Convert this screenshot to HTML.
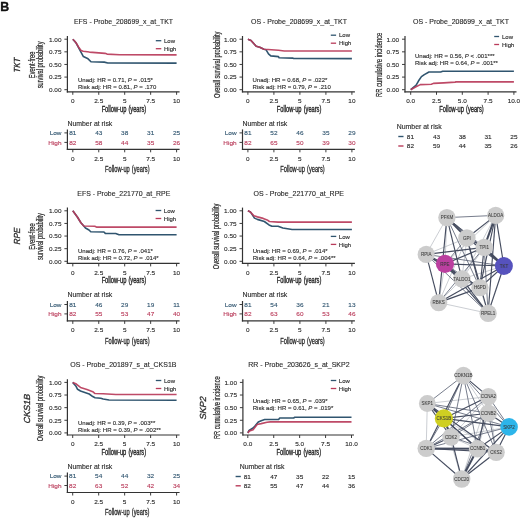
<!DOCTYPE html>
<html><head><meta charset="utf-8"><title>Figure B</title>
<style>html,body{margin:0;padding:0;background:#fff;}svg{display:block;filter:blur(0.35px);}text{font-family:'Liberation Sans', sans-serif;}</style>
</head><body>
<svg width="520" height="518" viewBox="0 0 520 518" font-family="'Liberation Sans', sans-serif">
<line x1="67.40" y1="36.00" x2="67.40" y2="92.40" stroke="#333333" stroke-width="1.2" />
<line x1="66.80" y1="91.80" x2="179.60" y2="91.80" stroke="#333333" stroke-width="1.2" />
<line x1="64.40" y1="89.70" x2="67.40" y2="89.70" stroke="#333333" stroke-width="0.95" />
<text transform="translate(61.50,92.00) scale(1.09,1)" x="0" y="0" font-size="5.92" fill="#2a2a2a" text-anchor="end" stroke="#2a2a2a" stroke-width="0.12">0.00</text>
<line x1="64.40" y1="77.08" x2="67.40" y2="77.08" stroke="#333333" stroke-width="0.95" />
<text transform="translate(61.50,79.38) scale(1.09,1)" x="0" y="0" font-size="5.92" fill="#2a2a2a" text-anchor="end" stroke="#2a2a2a" stroke-width="0.12">0.25</text>
<line x1="64.40" y1="64.45" x2="67.40" y2="64.45" stroke="#333333" stroke-width="0.95" />
<text transform="translate(61.50,66.75) scale(1.09,1)" x="0" y="0" font-size="5.92" fill="#2a2a2a" text-anchor="end" stroke="#2a2a2a" stroke-width="0.12">0.50</text>
<line x1="64.40" y1="51.83" x2="67.40" y2="51.83" stroke="#333333" stroke-width="0.95" />
<text transform="translate(61.50,54.12) scale(1.09,1)" x="0" y="0" font-size="5.92" fill="#2a2a2a" text-anchor="end" stroke="#2a2a2a" stroke-width="0.12">0.75</text>
<line x1="64.40" y1="39.20" x2="67.40" y2="39.20" stroke="#333333" stroke-width="0.95" />
<text transform="translate(61.50,41.50) scale(1.09,1)" x="0" y="0" font-size="5.92" fill="#2a2a2a" text-anchor="end" stroke="#2a2a2a" stroke-width="0.12">1.00</text>
<line x1="72.80" y1="91.80" x2="72.80" y2="94.80" stroke="#333333" stroke-width="0.95" />
<text transform="translate(72.80,103.20) scale(1.09,1)" x="0" y="0" font-size="5.92" fill="#2a2a2a" text-anchor="middle" stroke="#2a2a2a" stroke-width="0.12">0</text>
<line x1="98.75" y1="91.80" x2="98.75" y2="94.80" stroke="#333333" stroke-width="0.95" />
<text transform="translate(98.75,103.20) scale(1.09,1)" x="0" y="0" font-size="5.92" fill="#2a2a2a" text-anchor="middle" stroke="#2a2a2a" stroke-width="0.12">2.5</text>
<line x1="124.70" y1="91.80" x2="124.70" y2="94.80" stroke="#333333" stroke-width="0.95" />
<text transform="translate(124.70,103.20) scale(1.09,1)" x="0" y="0" font-size="5.92" fill="#2a2a2a" text-anchor="middle" stroke="#2a2a2a" stroke-width="0.12">5</text>
<line x1="150.65" y1="91.80" x2="150.65" y2="94.80" stroke="#333333" stroke-width="0.95" />
<text transform="translate(150.65,103.20) scale(1.09,1)" x="0" y="0" font-size="5.92" fill="#2a2a2a" text-anchor="middle" stroke="#2a2a2a" stroke-width="0.12">7.5</text>
<line x1="176.60" y1="91.80" x2="176.60" y2="94.80" stroke="#333333" stroke-width="0.95" />
<text transform="translate(176.60,103.20) scale(1.09,1)" x="0" y="0" font-size="5.92" fill="#2a2a2a" text-anchor="middle" stroke="#2a2a2a" stroke-width="0.12">10</text>
<text x="123.90" y="111.80" font-size="8.4" fill="#2a2a2a" text-anchor="middle" textLength="44.5" lengthAdjust="spacingAndGlyphs" stroke="#2a2a2a" stroke-width="0.38" word-spacing="0.8">Follow-up (years)</text>
<text x="74.00" y="24.20" font-size="6.56" fill="#2a2a2a" textLength="99" lengthAdjust="spacingAndGlyphs" stroke="#2a2a2a" stroke-width="0.12">EFS - Probe_208699_x_at_TKT</text>
<text transform="translate(34.60,64.90) rotate(-90)" x="0" y="0" font-size="8.8" fill="#2a2a2a" text-anchor="middle" textLength="26.5" lengthAdjust="spacingAndGlyphs" stroke="#2a2a2a" stroke-width="0.22">Event-free</text>
<text transform="translate(43.00,64.90) rotate(-90)" x="0" y="0" font-size="8.8" fill="#2a2a2a" text-anchor="middle" textLength="46.8" lengthAdjust="spacingAndGlyphs" stroke="#2a2a2a" stroke-width="0.22">survival probability</text>
<text transform="translate(20.10,65.60) rotate(-90) skewX(-13)" x="0" y="0" font-size="8.8" fill="#2a2a2a" text-anchor="middle" textLength="14.6" lengthAdjust="spacingAndGlyphs" stroke="#2a2a2a" stroke-width="0.3">TKT</text>
<polyline points="72.80,39.20 75.91,42.73 79.34,49.05 83.39,56.52 88.06,58.84 90.97,61.72 104.25,62.13 107.78,62.94 176.60,63.09" fill="none" stroke="#30556f" stroke-width="1.6" stroke-linejoin="round"/>
<polyline points="72.80,39.20 74.88,41.22 76.95,44.25 79.03,47.79 81.10,50.56 83.18,51.32 89.41,52.08 98.75,52.84 104.98,53.34 107.05,54.10 119.51,54.75 176.60,54.86" fill="none" stroke="#b93b5a" stroke-width="1.6" stroke-linejoin="round" stroke-opacity="0.92"/>
<line x1="155.80" y1="40.70" x2="161.30" y2="40.70" stroke="#30556f" stroke-width="1.3" />
<text transform="translate(164.00,42.90) scale(1.09,1)" x="0" y="0" font-size="5.5" fill="#2a2a2a" stroke="#2a2a2a" stroke-width="0.12">Low</text>
<line x1="155.80" y1="48.70" x2="161.30" y2="48.70" stroke="#b93b5a" stroke-width="1.3" />
<text transform="translate(164.00,50.90) scale(1.09,1)" x="0" y="0" font-size="5.5" fill="#2a2a2a" stroke="#2a2a2a" stroke-width="0.12">High</text>
<text transform="translate(78.00,82.00) scale(1.09,1)" x="0" y="0" font-size="5.55" fill="#2a2a2a" stroke="#2a2a2a" stroke-width="0.12">Unadj: HR = 0.71, <tspan font-style="italic">P</tspan> = .015*</text>
<text transform="translate(78.00,88.90) scale(1.09,1)" x="0" y="0" font-size="5.55" fill="#2a2a2a" stroke="#2a2a2a" stroke-width="0.12">Risk adj: HR = 0.81, <tspan font-style="italic">P</tspan> = .170</text>
<text transform="translate(67.50,126.20) scale(1.09,1)" x="0" y="0" font-size="6.33" fill="#2a2a2a" stroke="#2a2a2a" stroke-width="0.12">Number at risk</text>
<line x1="67.40" y1="129.40" x2="67.40" y2="149.90" stroke="#333333" stroke-width="1.2" />
<line x1="66.80" y1="149.30" x2="179.60" y2="149.30" stroke="#333333" stroke-width="1.2" />
<line x1="64.40" y1="132.90" x2="67.40" y2="132.90" stroke="#333333" stroke-width="0.95" />
<text transform="translate(61.50,135.20) scale(1.09,1)" x="0" y="0" font-size="5.92" fill="#30556f" text-anchor="end" stroke="#30556f" stroke-width="0.12">Low</text>
<text transform="translate(72.80,135.20) scale(1.09,1)" x="0" y="0" font-size="5.92" fill="#30556f" text-anchor="middle" stroke="#30556f" stroke-width="0.12">81</text>
<text transform="translate(98.75,135.20) scale(1.09,1)" x="0" y="0" font-size="5.92" fill="#30556f" text-anchor="middle" stroke="#30556f" stroke-width="0.12">43</text>
<text transform="translate(124.70,135.20) scale(1.09,1)" x="0" y="0" font-size="5.92" fill="#30556f" text-anchor="middle" stroke="#30556f" stroke-width="0.12">38</text>
<text transform="translate(150.65,135.20) scale(1.09,1)" x="0" y="0" font-size="5.92" fill="#30556f" text-anchor="middle" stroke="#30556f" stroke-width="0.12">31</text>
<text transform="translate(176.60,135.20) scale(1.09,1)" x="0" y="0" font-size="5.92" fill="#30556f" text-anchor="middle" stroke="#30556f" stroke-width="0.12">25</text>
<line x1="64.40" y1="142.40" x2="67.40" y2="142.40" stroke="#333333" stroke-width="0.95" />
<text transform="translate(61.50,144.70) scale(1.09,1)" x="0" y="0" font-size="5.92" fill="#b93b5a" text-anchor="end" stroke="#b93b5a" stroke-width="0.12">High</text>
<text transform="translate(72.80,144.70) scale(1.09,1)" x="0" y="0" font-size="5.92" fill="#b93b5a" text-anchor="middle" stroke="#b93b5a" stroke-width="0.12">82</text>
<text transform="translate(98.75,144.70) scale(1.09,1)" x="0" y="0" font-size="5.92" fill="#b93b5a" text-anchor="middle" stroke="#b93b5a" stroke-width="0.12">58</text>
<text transform="translate(124.70,144.70) scale(1.09,1)" x="0" y="0" font-size="5.92" fill="#b93b5a" text-anchor="middle" stroke="#b93b5a" stroke-width="0.12">44</text>
<text transform="translate(150.65,144.70) scale(1.09,1)" x="0" y="0" font-size="5.92" fill="#b93b5a" text-anchor="middle" stroke="#b93b5a" stroke-width="0.12">35</text>
<text transform="translate(176.60,144.70) scale(1.09,1)" x="0" y="0" font-size="5.92" fill="#b93b5a" text-anchor="middle" stroke="#b93b5a" stroke-width="0.12">26</text>
<line x1="72.80" y1="149.30" x2="72.80" y2="152.30" stroke="#333333" stroke-width="0.95" />
<text transform="translate(72.80,160.70) scale(1.09,1)" x="0" y="0" font-size="5.92" fill="#2a2a2a" text-anchor="middle" stroke="#2a2a2a" stroke-width="0.12">0</text>
<line x1="98.75" y1="149.30" x2="98.75" y2="152.30" stroke="#333333" stroke-width="0.95" />
<text transform="translate(98.75,160.70) scale(1.09,1)" x="0" y="0" font-size="5.92" fill="#2a2a2a" text-anchor="middle" stroke="#2a2a2a" stroke-width="0.12">2.5</text>
<line x1="124.70" y1="149.30" x2="124.70" y2="152.30" stroke="#333333" stroke-width="0.95" />
<text transform="translate(124.70,160.70) scale(1.09,1)" x="0" y="0" font-size="5.92" fill="#2a2a2a" text-anchor="middle" stroke="#2a2a2a" stroke-width="0.12">5</text>
<line x1="150.65" y1="149.30" x2="150.65" y2="152.30" stroke="#333333" stroke-width="0.95" />
<text transform="translate(150.65,160.70) scale(1.09,1)" x="0" y="0" font-size="5.92" fill="#2a2a2a" text-anchor="middle" stroke="#2a2a2a" stroke-width="0.12">7.5</text>
<line x1="176.60" y1="149.30" x2="176.60" y2="152.30" stroke="#333333" stroke-width="0.95" />
<text transform="translate(176.60,160.70) scale(1.09,1)" x="0" y="0" font-size="5.92" fill="#2a2a2a" text-anchor="middle" stroke="#2a2a2a" stroke-width="0.12">10</text>
<text x="127.30" y="172.10" font-size="8.4" fill="#2a2a2a" text-anchor="middle" textLength="44.5" lengthAdjust="spacingAndGlyphs" stroke="#2a2a2a" stroke-width="0.3" word-spacing="0.8">Follow-up (years)</text>
<line x1="242.50" y1="36.00" x2="242.50" y2="92.40" stroke="#333333" stroke-width="1.2" />
<line x1="241.90" y1="91.80" x2="354.90" y2="91.80" stroke="#333333" stroke-width="1.2" />
<line x1="239.50" y1="89.70" x2="242.50" y2="89.70" stroke="#333333" stroke-width="0.95" />
<text transform="translate(236.60,92.00) scale(1.09,1)" x="0" y="0" font-size="5.92" fill="#2a2a2a" text-anchor="end" stroke="#2a2a2a" stroke-width="0.12">0.00</text>
<line x1="239.50" y1="77.08" x2="242.50" y2="77.08" stroke="#333333" stroke-width="0.95" />
<text transform="translate(236.60,79.38) scale(1.09,1)" x="0" y="0" font-size="5.92" fill="#2a2a2a" text-anchor="end" stroke="#2a2a2a" stroke-width="0.12">0.25</text>
<line x1="239.50" y1="64.45" x2="242.50" y2="64.45" stroke="#333333" stroke-width="0.95" />
<text transform="translate(236.60,66.75) scale(1.09,1)" x="0" y="0" font-size="5.92" fill="#2a2a2a" text-anchor="end" stroke="#2a2a2a" stroke-width="0.12">0.50</text>
<line x1="239.50" y1="51.83" x2="242.50" y2="51.83" stroke="#333333" stroke-width="0.95" />
<text transform="translate(236.60,54.12) scale(1.09,1)" x="0" y="0" font-size="5.92" fill="#2a2a2a" text-anchor="end" stroke="#2a2a2a" stroke-width="0.12">0.75</text>
<line x1="239.50" y1="39.20" x2="242.50" y2="39.20" stroke="#333333" stroke-width="0.95" />
<text transform="translate(236.60,41.50) scale(1.09,1)" x="0" y="0" font-size="5.92" fill="#2a2a2a" text-anchor="end" stroke="#2a2a2a" stroke-width="0.12">1.00</text>
<line x1="247.90" y1="91.80" x2="247.90" y2="94.80" stroke="#333333" stroke-width="0.95" />
<text transform="translate(247.90,103.20) scale(1.09,1)" x="0" y="0" font-size="5.92" fill="#2a2a2a" text-anchor="middle" stroke="#2a2a2a" stroke-width="0.12">0</text>
<line x1="273.90" y1="91.80" x2="273.90" y2="94.80" stroke="#333333" stroke-width="0.95" />
<text transform="translate(273.90,103.20) scale(1.09,1)" x="0" y="0" font-size="5.92" fill="#2a2a2a" text-anchor="middle" stroke="#2a2a2a" stroke-width="0.12">2.5</text>
<line x1="299.90" y1="91.80" x2="299.90" y2="94.80" stroke="#333333" stroke-width="0.95" />
<text transform="translate(299.90,103.20) scale(1.09,1)" x="0" y="0" font-size="5.92" fill="#2a2a2a" text-anchor="middle" stroke="#2a2a2a" stroke-width="0.12">5</text>
<line x1="325.90" y1="91.80" x2="325.90" y2="94.80" stroke="#333333" stroke-width="0.95" />
<text transform="translate(325.90,103.20) scale(1.09,1)" x="0" y="0" font-size="5.92" fill="#2a2a2a" text-anchor="middle" stroke="#2a2a2a" stroke-width="0.12">7.5</text>
<line x1="351.90" y1="91.80" x2="351.90" y2="94.80" stroke="#333333" stroke-width="0.95" />
<text transform="translate(351.90,103.20) scale(1.09,1)" x="0" y="0" font-size="5.92" fill="#2a2a2a" text-anchor="middle" stroke="#2a2a2a" stroke-width="0.12">10</text>
<text x="299.10" y="111.80" font-size="8.4" fill="#2a2a2a" text-anchor="middle" textLength="44.5" lengthAdjust="spacingAndGlyphs" stroke="#2a2a2a" stroke-width="0.38" word-spacing="0.8">Follow-up (years)</text>
<text x="251.00" y="24.20" font-size="6.56" fill="#2a2a2a" textLength="96" lengthAdjust="spacingAndGlyphs" stroke="#2a2a2a" stroke-width="0.12">OS - Probe_208699_x_at_TKT</text>
<text transform="translate(219.60,64.80) rotate(-90)" x="0" y="0" font-size="8.8" fill="#2a2a2a" text-anchor="middle" textLength="66.5" lengthAdjust="spacingAndGlyphs" stroke="#2a2a2a" stroke-width="0.22">Overall survival probability</text>
<polyline points="247.90,39.20 251.02,40.41 253.93,43.75 256.22,46.27 259.76,47.28 263.92,49.30 266.10,49.80 268.49,53.85 270.78,55.87 278.48,56.62 279.10,57.78 292.62,58.09 293.66,58.54 351.90,58.64" fill="none" stroke="#30556f" stroke-width="1.6" stroke-linejoin="round"/>
<polyline points="247.90,39.20 251.02,40.41 253.93,43.75 256.22,46.27 259.76,47.28 263.92,49.30 267.97,49.55 278.48,50.31 284.30,51.07 351.90,51.07" fill="none" stroke="#b93b5a" stroke-width="1.6" stroke-linejoin="round" stroke-opacity="0.92"/>
<line x1="330.80" y1="35.20" x2="336.10" y2="35.20" stroke="#30556f" stroke-width="1.3" />
<text transform="translate(339.00,37.40) scale(1.09,1)" x="0" y="0" font-size="5.5" fill="#2a2a2a" stroke="#2a2a2a" stroke-width="0.12">Low</text>
<line x1="330.80" y1="43.20" x2="336.10" y2="43.20" stroke="#b93b5a" stroke-width="1.3" />
<text transform="translate(339.00,45.40) scale(1.09,1)" x="0" y="0" font-size="5.5" fill="#2a2a2a" stroke="#2a2a2a" stroke-width="0.12">High</text>
<text transform="translate(252.50,82.00) scale(1.09,1)" x="0" y="0" font-size="5.55" fill="#2a2a2a" stroke="#2a2a2a" stroke-width="0.12">Unadj: HR = 0.68, <tspan font-style="italic">P</tspan> = .022*</text>
<text transform="translate(252.50,88.90) scale(1.09,1)" x="0" y="0" font-size="5.55" fill="#2a2a2a" stroke="#2a2a2a" stroke-width="0.12">Risk adj: HR = 0.79, <tspan font-style="italic">P</tspan> = .210</text>
<text transform="translate(242.50,126.20) scale(1.09,1)" x="0" y="0" font-size="6.33" fill="#2a2a2a" stroke="#2a2a2a" stroke-width="0.12">Number at risk</text>
<line x1="242.50" y1="129.40" x2="242.50" y2="149.90" stroke="#333333" stroke-width="1.2" />
<line x1="241.90" y1="149.30" x2="354.90" y2="149.30" stroke="#333333" stroke-width="1.2" />
<line x1="239.50" y1="132.90" x2="242.50" y2="132.90" stroke="#333333" stroke-width="0.95" />
<text transform="translate(236.60,135.20) scale(1.09,1)" x="0" y="0" font-size="5.92" fill="#30556f" text-anchor="end" stroke="#30556f" stroke-width="0.12">Low</text>
<text transform="translate(247.90,135.20) scale(1.09,1)" x="0" y="0" font-size="5.92" fill="#30556f" text-anchor="middle" stroke="#30556f" stroke-width="0.12">81</text>
<text transform="translate(273.90,135.20) scale(1.09,1)" x="0" y="0" font-size="5.92" fill="#30556f" text-anchor="middle" stroke="#30556f" stroke-width="0.12">52</text>
<text transform="translate(299.90,135.20) scale(1.09,1)" x="0" y="0" font-size="5.92" fill="#30556f" text-anchor="middle" stroke="#30556f" stroke-width="0.12">46</text>
<text transform="translate(325.90,135.20) scale(1.09,1)" x="0" y="0" font-size="5.92" fill="#30556f" text-anchor="middle" stroke="#30556f" stroke-width="0.12">35</text>
<text transform="translate(351.90,135.20) scale(1.09,1)" x="0" y="0" font-size="5.92" fill="#30556f" text-anchor="middle" stroke="#30556f" stroke-width="0.12">29</text>
<line x1="239.50" y1="142.40" x2="242.50" y2="142.40" stroke="#333333" stroke-width="0.95" />
<text transform="translate(236.60,144.70) scale(1.09,1)" x="0" y="0" font-size="5.92" fill="#b93b5a" text-anchor="end" stroke="#b93b5a" stroke-width="0.12">High</text>
<text transform="translate(247.90,144.70) scale(1.09,1)" x="0" y="0" font-size="5.92" fill="#b93b5a" text-anchor="middle" stroke="#b93b5a" stroke-width="0.12">82</text>
<text transform="translate(273.90,144.70) scale(1.09,1)" x="0" y="0" font-size="5.92" fill="#b93b5a" text-anchor="middle" stroke="#b93b5a" stroke-width="0.12">65</text>
<text transform="translate(299.90,144.70) scale(1.09,1)" x="0" y="0" font-size="5.92" fill="#b93b5a" text-anchor="middle" stroke="#b93b5a" stroke-width="0.12">50</text>
<text transform="translate(325.90,144.70) scale(1.09,1)" x="0" y="0" font-size="5.92" fill="#b93b5a" text-anchor="middle" stroke="#b93b5a" stroke-width="0.12">39</text>
<text transform="translate(351.90,144.70) scale(1.09,1)" x="0" y="0" font-size="5.92" fill="#b93b5a" text-anchor="middle" stroke="#b93b5a" stroke-width="0.12">30</text>
<line x1="247.90" y1="149.30" x2="247.90" y2="152.30" stroke="#333333" stroke-width="0.95" />
<text transform="translate(247.90,160.70) scale(1.09,1)" x="0" y="0" font-size="5.92" fill="#2a2a2a" text-anchor="middle" stroke="#2a2a2a" stroke-width="0.12">0</text>
<line x1="273.90" y1="149.30" x2="273.90" y2="152.30" stroke="#333333" stroke-width="0.95" />
<text transform="translate(273.90,160.70) scale(1.09,1)" x="0" y="0" font-size="5.92" fill="#2a2a2a" text-anchor="middle" stroke="#2a2a2a" stroke-width="0.12">2.5</text>
<line x1="299.90" y1="149.30" x2="299.90" y2="152.30" stroke="#333333" stroke-width="0.95" />
<text transform="translate(299.90,160.70) scale(1.09,1)" x="0" y="0" font-size="5.92" fill="#2a2a2a" text-anchor="middle" stroke="#2a2a2a" stroke-width="0.12">5</text>
<line x1="325.90" y1="149.30" x2="325.90" y2="152.30" stroke="#333333" stroke-width="0.95" />
<text transform="translate(325.90,160.70) scale(1.09,1)" x="0" y="0" font-size="5.92" fill="#2a2a2a" text-anchor="middle" stroke="#2a2a2a" stroke-width="0.12">7.5</text>
<line x1="351.90" y1="149.30" x2="351.90" y2="152.30" stroke="#333333" stroke-width="0.95" />
<text transform="translate(351.90,160.70) scale(1.09,1)" x="0" y="0" font-size="5.92" fill="#2a2a2a" text-anchor="middle" stroke="#2a2a2a" stroke-width="0.12">10</text>
<text x="302.50" y="172.10" font-size="8.4" fill="#2a2a2a" text-anchor="middle" textLength="44.5" lengthAdjust="spacingAndGlyphs" stroke="#2a2a2a" stroke-width="0.3" word-spacing="0.8">Follow-up (years)</text>
<line x1="405.00" y1="36.00" x2="405.00" y2="92.40" stroke="#333333" stroke-width="1.2" />
<line x1="404.40" y1="91.80" x2="516.50" y2="91.80" stroke="#333333" stroke-width="1.2" />
<line x1="402.00" y1="89.70" x2="405.00" y2="89.70" stroke="#333333" stroke-width="0.95" />
<text transform="translate(399.10,92.00) scale(1.09,1)" x="0" y="0" font-size="5.92" fill="#2a2a2a" text-anchor="end" stroke="#2a2a2a" stroke-width="0.12">0.00</text>
<line x1="402.00" y1="77.08" x2="405.00" y2="77.08" stroke="#333333" stroke-width="0.95" />
<text transform="translate(399.10,79.38) scale(1.09,1)" x="0" y="0" font-size="5.92" fill="#2a2a2a" text-anchor="end" stroke="#2a2a2a" stroke-width="0.12">0.25</text>
<line x1="402.00" y1="64.45" x2="405.00" y2="64.45" stroke="#333333" stroke-width="0.95" />
<text transform="translate(399.10,66.75) scale(1.09,1)" x="0" y="0" font-size="5.92" fill="#2a2a2a" text-anchor="end" stroke="#2a2a2a" stroke-width="0.12">0.50</text>
<line x1="402.00" y1="51.83" x2="405.00" y2="51.83" stroke="#333333" stroke-width="0.95" />
<text transform="translate(399.10,54.12) scale(1.09,1)" x="0" y="0" font-size="5.92" fill="#2a2a2a" text-anchor="end" stroke="#2a2a2a" stroke-width="0.12">0.75</text>
<line x1="402.00" y1="39.20" x2="405.00" y2="39.20" stroke="#333333" stroke-width="0.95" />
<text transform="translate(399.10,41.50) scale(1.09,1)" x="0" y="0" font-size="5.92" fill="#2a2a2a" text-anchor="end" stroke="#2a2a2a" stroke-width="0.12">1.00</text>
<line x1="410.70" y1="91.80" x2="410.70" y2="94.80" stroke="#333333" stroke-width="0.95" />
<text transform="translate(410.70,103.20) scale(1.09,1)" x="0" y="0" font-size="5.92" fill="#2a2a2a" text-anchor="middle" stroke="#2a2a2a" stroke-width="0.12">0.0</text>
<line x1="436.50" y1="91.80" x2="436.50" y2="94.80" stroke="#333333" stroke-width="0.95" />
<text transform="translate(436.50,103.20) scale(1.09,1)" x="0" y="0" font-size="5.92" fill="#2a2a2a" text-anchor="middle" stroke="#2a2a2a" stroke-width="0.12">2.5</text>
<line x1="462.30" y1="91.80" x2="462.30" y2="94.80" stroke="#333333" stroke-width="0.95" />
<text transform="translate(462.30,103.20) scale(1.09,1)" x="0" y="0" font-size="5.92" fill="#2a2a2a" text-anchor="middle" stroke="#2a2a2a" stroke-width="0.12">5.0</text>
<line x1="488.10" y1="91.80" x2="488.10" y2="94.80" stroke="#333333" stroke-width="0.95" />
<text transform="translate(488.10,103.20) scale(1.09,1)" x="0" y="0" font-size="5.92" fill="#2a2a2a" text-anchor="middle" stroke="#2a2a2a" stroke-width="0.12">7.5</text>
<line x1="513.90" y1="91.80" x2="513.90" y2="94.80" stroke="#333333" stroke-width="0.95" />
<text transform="translate(513.90,103.20) scale(1.09,1)" x="0" y="0" font-size="5.92" fill="#2a2a2a" text-anchor="middle" stroke="#2a2a2a" stroke-width="0.12">10.0</text>
<text x="461.50" y="111.80" font-size="8.4" fill="#2a2a2a" text-anchor="middle" textLength="44.5" lengthAdjust="spacingAndGlyphs" stroke="#2a2a2a" stroke-width="0.38" word-spacing="0.8">Follow-up (years)</text>
<text x="413.00" y="24.20" font-size="6.56" fill="#2a2a2a" textLength="96" lengthAdjust="spacingAndGlyphs" stroke="#2a2a2a" stroke-width="0.12">OS - Probe_208699_x_at_TKT</text>
<text transform="translate(381.60,64.80) rotate(-90)" x="0" y="0" font-size="8.8" fill="#2a2a2a" text-anchor="middle" textLength="64.2" lengthAdjust="spacingAndGlyphs" stroke="#2a2a2a" stroke-width="0.22">RR cumulative incidence</text>
<polyline points="410.70,89.70 416.17,85.21 418.44,81.06 421.43,76.67 424.32,74.65 428.97,71.97 440.63,71.97 442.69,71.27 513.90,71.27" fill="none" stroke="#30556f" stroke-width="1.6" stroke-linejoin="round"/>
<polyline points="410.70,89.70 415.55,86.97 420.30,84.65 431.34,84.30 433.40,83.39 443.72,82.88 455.08,82.12 456.11,81.87 513.90,81.87" fill="none" stroke="#b93b5a" stroke-width="1.6" stroke-linejoin="round" stroke-opacity="0.92"/>
<line x1="494.20" y1="36.50" x2="499.10" y2="36.50" stroke="#30556f" stroke-width="1.3" />
<text transform="translate(502.00,38.70) scale(1.09,1)" x="0" y="0" font-size="5.5" fill="#2a2a2a" stroke="#2a2a2a" stroke-width="0.12">Low</text>
<line x1="494.20" y1="44.50" x2="499.10" y2="44.50" stroke="#b93b5a" stroke-width="1.3" />
<text transform="translate(502.00,46.70) scale(1.09,1)" x="0" y="0" font-size="5.5" fill="#2a2a2a" stroke="#2a2a2a" stroke-width="0.12">High</text>
<text transform="translate(415.00,58.00) scale(1.09,1)" x="0" y="0" font-size="5.55" fill="#2a2a2a" stroke="#2a2a2a" stroke-width="0.12">Unadj: HR = 0.56, <tspan font-style="italic">P</tspan> &lt; .001***</text>
<text transform="translate(415.00,64.90) scale(1.09,1)" x="0" y="0" font-size="5.55" fill="#2a2a2a" stroke="#2a2a2a" stroke-width="0.12">Risk adj: HR = 0.64, <tspan font-style="italic">P</tspan> = .001**</text>
<text transform="translate(396.80,129.00) scale(1.09,1)" x="0" y="0" font-size="6.33" fill="#2a2a2a" stroke="#2a2a2a" stroke-width="0.12">Number at risk</text>
<line x1="398.30" y1="136.50" x2="403.50" y2="136.50" stroke="#30556f" stroke-width="1.4" />
<text transform="translate(410.40,138.80) scale(1.09,1)" x="0" y="0" font-size="5.92" fill="#2a2a2a" text-anchor="middle" stroke="#2a2a2a" stroke-width="0.12">81</text>
<text transform="translate(436.50,138.80) scale(1.09,1)" x="0" y="0" font-size="5.92" fill="#2a2a2a" text-anchor="middle" stroke="#2a2a2a" stroke-width="0.12">43</text>
<text transform="translate(462.30,138.80) scale(1.09,1)" x="0" y="0" font-size="5.92" fill="#2a2a2a" text-anchor="middle" stroke="#2a2a2a" stroke-width="0.12">38</text>
<text transform="translate(488.10,138.80) scale(1.09,1)" x="0" y="0" font-size="5.92" fill="#2a2a2a" text-anchor="middle" stroke="#2a2a2a" stroke-width="0.12">31</text>
<text transform="translate(513.90,138.80) scale(1.09,1)" x="0" y="0" font-size="5.92" fill="#2a2a2a" text-anchor="middle" stroke="#2a2a2a" stroke-width="0.12">25</text>
<line x1="398.30" y1="146.00" x2="403.50" y2="146.00" stroke="#b93b5a" stroke-width="1.4" />
<text transform="translate(410.40,148.30) scale(1.09,1)" x="0" y="0" font-size="5.92" fill="#2a2a2a" text-anchor="middle" stroke="#2a2a2a" stroke-width="0.12">82</text>
<text transform="translate(436.50,148.30) scale(1.09,1)" x="0" y="0" font-size="5.92" fill="#2a2a2a" text-anchor="middle" stroke="#2a2a2a" stroke-width="0.12">59</text>
<text transform="translate(462.30,148.30) scale(1.09,1)" x="0" y="0" font-size="5.92" fill="#2a2a2a" text-anchor="middle" stroke="#2a2a2a" stroke-width="0.12">44</text>
<text transform="translate(488.10,148.30) scale(1.09,1)" x="0" y="0" font-size="5.92" fill="#2a2a2a" text-anchor="middle" stroke="#2a2a2a" stroke-width="0.12">35</text>
<text transform="translate(513.90,148.30) scale(1.09,1)" x="0" y="0" font-size="5.92" fill="#2a2a2a" text-anchor="middle" stroke="#2a2a2a" stroke-width="0.12">26</text>
<line x1="67.40" y1="207.60" x2="67.40" y2="264.00" stroke="#333333" stroke-width="1.2" />
<line x1="66.80" y1="263.40" x2="179.60" y2="263.40" stroke="#333333" stroke-width="1.2" />
<line x1="64.40" y1="261.30" x2="67.40" y2="261.30" stroke="#333333" stroke-width="0.95" />
<text transform="translate(61.50,263.60) scale(1.09,1)" x="0" y="0" font-size="5.92" fill="#2a2a2a" text-anchor="end" stroke="#2a2a2a" stroke-width="0.12">0.00</text>
<line x1="64.40" y1="248.68" x2="67.40" y2="248.68" stroke="#333333" stroke-width="0.95" />
<text transform="translate(61.50,250.98) scale(1.09,1)" x="0" y="0" font-size="5.92" fill="#2a2a2a" text-anchor="end" stroke="#2a2a2a" stroke-width="0.12">0.25</text>
<line x1="64.40" y1="236.05" x2="67.40" y2="236.05" stroke="#333333" stroke-width="0.95" />
<text transform="translate(61.50,238.35) scale(1.09,1)" x="0" y="0" font-size="5.92" fill="#2a2a2a" text-anchor="end" stroke="#2a2a2a" stroke-width="0.12">0.50</text>
<line x1="64.40" y1="223.43" x2="67.40" y2="223.43" stroke="#333333" stroke-width="0.95" />
<text transform="translate(61.50,225.73) scale(1.09,1)" x="0" y="0" font-size="5.92" fill="#2a2a2a" text-anchor="end" stroke="#2a2a2a" stroke-width="0.12">0.75</text>
<line x1="64.40" y1="210.80" x2="67.40" y2="210.80" stroke="#333333" stroke-width="0.95" />
<text transform="translate(61.50,213.10) scale(1.09,1)" x="0" y="0" font-size="5.92" fill="#2a2a2a" text-anchor="end" stroke="#2a2a2a" stroke-width="0.12">1.00</text>
<line x1="72.80" y1="263.40" x2="72.80" y2="266.40" stroke="#333333" stroke-width="0.95" />
<text transform="translate(72.80,274.80) scale(1.09,1)" x="0" y="0" font-size="5.92" fill="#2a2a2a" text-anchor="middle" stroke="#2a2a2a" stroke-width="0.12">0</text>
<line x1="98.75" y1="263.40" x2="98.75" y2="266.40" stroke="#333333" stroke-width="0.95" />
<text transform="translate(98.75,274.80) scale(1.09,1)" x="0" y="0" font-size="5.92" fill="#2a2a2a" text-anchor="middle" stroke="#2a2a2a" stroke-width="0.12">2.5</text>
<line x1="124.70" y1="263.40" x2="124.70" y2="266.40" stroke="#333333" stroke-width="0.95" />
<text transform="translate(124.70,274.80) scale(1.09,1)" x="0" y="0" font-size="5.92" fill="#2a2a2a" text-anchor="middle" stroke="#2a2a2a" stroke-width="0.12">5</text>
<line x1="150.65" y1="263.40" x2="150.65" y2="266.40" stroke="#333333" stroke-width="0.95" />
<text transform="translate(150.65,274.80) scale(1.09,1)" x="0" y="0" font-size="5.92" fill="#2a2a2a" text-anchor="middle" stroke="#2a2a2a" stroke-width="0.12">7.5</text>
<line x1="176.60" y1="263.40" x2="176.60" y2="266.40" stroke="#333333" stroke-width="0.95" />
<text transform="translate(176.60,274.80) scale(1.09,1)" x="0" y="0" font-size="5.92" fill="#2a2a2a" text-anchor="middle" stroke="#2a2a2a" stroke-width="0.12">10</text>
<text x="123.90" y="283.40" font-size="8.4" fill="#2a2a2a" text-anchor="middle" textLength="44.5" lengthAdjust="spacingAndGlyphs" stroke="#2a2a2a" stroke-width="0.38" word-spacing="0.8">Follow-up (years)</text>
<text x="77.30" y="195.80" font-size="6.56" fill="#2a2a2a" textLength="93.00000000000001" lengthAdjust="spacingAndGlyphs" stroke="#2a2a2a" stroke-width="0.12">EFS - Probe_221770_at_RPE</text>
<text transform="translate(34.60,236.50) rotate(-90)" x="0" y="0" font-size="8.8" fill="#2a2a2a" text-anchor="middle" textLength="26.5" lengthAdjust="spacingAndGlyphs" stroke="#2a2a2a" stroke-width="0.22">Event-free</text>
<text transform="translate(43.00,236.50) rotate(-90)" x="0" y="0" font-size="8.8" fill="#2a2a2a" text-anchor="middle" textLength="46.8" lengthAdjust="spacingAndGlyphs" stroke="#2a2a2a" stroke-width="0.22">survival probability</text>
<text transform="translate(20.10,236.60) rotate(-90) skewX(-13)" x="0" y="0" font-size="8.8" fill="#2a2a2a" text-anchor="middle" textLength="16.6" lengthAdjust="spacingAndGlyphs" stroke="#2a2a2a" stroke-width="0.3">RPE</text>
<polyline points="72.80,210.80 77.37,217.01 80.90,222.72 83.80,225.95 85.46,227.97 88.99,229.99 90.76,231.76 103.94,232.01 105.29,233.37 115.67,233.53 119.09,234.79 176.60,234.79" fill="none" stroke="#30556f" stroke-width="1.6" stroke-linejoin="round"/>
<polyline points="72.80,210.80 77.37,217.01 80.90,222.72 83.80,225.95 94.81,226.25 96.47,227.16 176.60,227.16" fill="none" stroke="#b93b5a" stroke-width="1.6" stroke-linejoin="round" stroke-opacity="0.92"/>
<line x1="155.60" y1="210.50" x2="161.25" y2="210.50" stroke="#30556f" stroke-width="1.3" />
<text transform="translate(163.80,212.70) scale(1.09,1)" x="0" y="0" font-size="5.5" fill="#2a2a2a" stroke="#2a2a2a" stroke-width="0.12">Low</text>
<line x1="155.60" y1="218.50" x2="161.25" y2="218.50" stroke="#b93b5a" stroke-width="1.3" />
<text transform="translate(163.80,220.70) scale(1.09,1)" x="0" y="0" font-size="5.5" fill="#2a2a2a" stroke="#2a2a2a" stroke-width="0.12">High</text>
<text transform="translate(78.00,252.90) scale(1.09,1)" x="0" y="0" font-size="5.55" fill="#2a2a2a" stroke="#2a2a2a" stroke-width="0.12">Unadj: HR = 0.76, <tspan font-style="italic">P</tspan> = .041*</text>
<text transform="translate(78.00,259.80) scale(1.09,1)" x="0" y="0" font-size="5.55" fill="#2a2a2a" stroke="#2a2a2a" stroke-width="0.12">Risk adj: HR = 0.72, <tspan font-style="italic">P</tspan> = .014*</text>
<text transform="translate(67.50,297.40) scale(1.09,1)" x="0" y="0" font-size="6.33" fill="#2a2a2a" stroke="#2a2a2a" stroke-width="0.12">Number at risk</text>
<line x1="67.40" y1="301.00" x2="67.40" y2="321.50" stroke="#333333" stroke-width="1.2" />
<line x1="66.80" y1="320.90" x2="179.60" y2="320.90" stroke="#333333" stroke-width="1.2" />
<line x1="64.40" y1="304.50" x2="67.40" y2="304.50" stroke="#333333" stroke-width="0.95" />
<text transform="translate(61.50,306.80) scale(1.09,1)" x="0" y="0" font-size="5.92" fill="#30556f" text-anchor="end" stroke="#30556f" stroke-width="0.12">Low</text>
<text transform="translate(72.80,306.80) scale(1.09,1)" x="0" y="0" font-size="5.92" fill="#30556f" text-anchor="middle" stroke="#30556f" stroke-width="0.12">81</text>
<text transform="translate(98.75,306.80) scale(1.09,1)" x="0" y="0" font-size="5.92" fill="#30556f" text-anchor="middle" stroke="#30556f" stroke-width="0.12">46</text>
<text transform="translate(124.70,306.80) scale(1.09,1)" x="0" y="0" font-size="5.92" fill="#30556f" text-anchor="middle" stroke="#30556f" stroke-width="0.12">29</text>
<text transform="translate(150.65,306.80) scale(1.09,1)" x="0" y="0" font-size="5.92" fill="#30556f" text-anchor="middle" stroke="#30556f" stroke-width="0.12">19</text>
<text transform="translate(176.60,306.80) scale(1.09,1)" x="0" y="0" font-size="5.92" fill="#30556f" text-anchor="middle" stroke="#30556f" stroke-width="0.12">11</text>
<line x1="64.40" y1="313.90" x2="67.40" y2="313.90" stroke="#333333" stroke-width="0.95" />
<text transform="translate(61.50,316.20) scale(1.09,1)" x="0" y="0" font-size="5.92" fill="#b93b5a" text-anchor="end" stroke="#b93b5a" stroke-width="0.12">High</text>
<text transform="translate(72.80,316.20) scale(1.09,1)" x="0" y="0" font-size="5.92" fill="#b93b5a" text-anchor="middle" stroke="#b93b5a" stroke-width="0.12">82</text>
<text transform="translate(98.75,316.20) scale(1.09,1)" x="0" y="0" font-size="5.92" fill="#b93b5a" text-anchor="middle" stroke="#b93b5a" stroke-width="0.12">55</text>
<text transform="translate(124.70,316.20) scale(1.09,1)" x="0" y="0" font-size="5.92" fill="#b93b5a" text-anchor="middle" stroke="#b93b5a" stroke-width="0.12">53</text>
<text transform="translate(150.65,316.20) scale(1.09,1)" x="0" y="0" font-size="5.92" fill="#b93b5a" text-anchor="middle" stroke="#b93b5a" stroke-width="0.12">47</text>
<text transform="translate(176.60,316.20) scale(1.09,1)" x="0" y="0" font-size="5.92" fill="#b93b5a" text-anchor="middle" stroke="#b93b5a" stroke-width="0.12">40</text>
<line x1="72.80" y1="320.90" x2="72.80" y2="323.90" stroke="#333333" stroke-width="0.95" />
<text transform="translate(72.80,332.30) scale(1.09,1)" x="0" y="0" font-size="5.92" fill="#2a2a2a" text-anchor="middle" stroke="#2a2a2a" stroke-width="0.12">0</text>
<line x1="98.75" y1="320.90" x2="98.75" y2="323.90" stroke="#333333" stroke-width="0.95" />
<text transform="translate(98.75,332.30) scale(1.09,1)" x="0" y="0" font-size="5.92" fill="#2a2a2a" text-anchor="middle" stroke="#2a2a2a" stroke-width="0.12">2.5</text>
<line x1="124.70" y1="320.90" x2="124.70" y2="323.90" stroke="#333333" stroke-width="0.95" />
<text transform="translate(124.70,332.30) scale(1.09,1)" x="0" y="0" font-size="5.92" fill="#2a2a2a" text-anchor="middle" stroke="#2a2a2a" stroke-width="0.12">5</text>
<line x1="150.65" y1="320.90" x2="150.65" y2="323.90" stroke="#333333" stroke-width="0.95" />
<text transform="translate(150.65,332.30) scale(1.09,1)" x="0" y="0" font-size="5.92" fill="#2a2a2a" text-anchor="middle" stroke="#2a2a2a" stroke-width="0.12">7.5</text>
<line x1="176.60" y1="320.90" x2="176.60" y2="323.90" stroke="#333333" stroke-width="0.95" />
<text transform="translate(176.60,332.30) scale(1.09,1)" x="0" y="0" font-size="5.92" fill="#2a2a2a" text-anchor="middle" stroke="#2a2a2a" stroke-width="0.12">10</text>
<text x="127.30" y="343.70" font-size="8.4" fill="#2a2a2a" text-anchor="middle" textLength="44.5" lengthAdjust="spacingAndGlyphs" stroke="#2a2a2a" stroke-width="0.3" word-spacing="0.8">Follow-up (years)</text>
<line x1="242.50" y1="207.60" x2="242.50" y2="264.00" stroke="#333333" stroke-width="1.2" />
<line x1="241.90" y1="263.40" x2="354.90" y2="263.40" stroke="#333333" stroke-width="1.2" />
<line x1="239.50" y1="261.30" x2="242.50" y2="261.30" stroke="#333333" stroke-width="0.95" />
<text transform="translate(236.60,263.60) scale(1.09,1)" x="0" y="0" font-size="5.92" fill="#2a2a2a" text-anchor="end" stroke="#2a2a2a" stroke-width="0.12">0.00</text>
<line x1="239.50" y1="248.68" x2="242.50" y2="248.68" stroke="#333333" stroke-width="0.95" />
<text transform="translate(236.60,250.98) scale(1.09,1)" x="0" y="0" font-size="5.92" fill="#2a2a2a" text-anchor="end" stroke="#2a2a2a" stroke-width="0.12">0.25</text>
<line x1="239.50" y1="236.05" x2="242.50" y2="236.05" stroke="#333333" stroke-width="0.95" />
<text transform="translate(236.60,238.35) scale(1.09,1)" x="0" y="0" font-size="5.92" fill="#2a2a2a" text-anchor="end" stroke="#2a2a2a" stroke-width="0.12">0.50</text>
<line x1="239.50" y1="223.43" x2="242.50" y2="223.43" stroke="#333333" stroke-width="0.95" />
<text transform="translate(236.60,225.73) scale(1.09,1)" x="0" y="0" font-size="5.92" fill="#2a2a2a" text-anchor="end" stroke="#2a2a2a" stroke-width="0.12">0.75</text>
<line x1="239.50" y1="210.80" x2="242.50" y2="210.80" stroke="#333333" stroke-width="0.95" />
<text transform="translate(236.60,213.10) scale(1.09,1)" x="0" y="0" font-size="5.92" fill="#2a2a2a" text-anchor="end" stroke="#2a2a2a" stroke-width="0.12">1.00</text>
<line x1="247.90" y1="263.40" x2="247.90" y2="266.40" stroke="#333333" stroke-width="0.95" />
<text transform="translate(247.90,274.80) scale(1.09,1)" x="0" y="0" font-size="5.92" fill="#2a2a2a" text-anchor="middle" stroke="#2a2a2a" stroke-width="0.12">0</text>
<line x1="273.90" y1="263.40" x2="273.90" y2="266.40" stroke="#333333" stroke-width="0.95" />
<text transform="translate(273.90,274.80) scale(1.09,1)" x="0" y="0" font-size="5.92" fill="#2a2a2a" text-anchor="middle" stroke="#2a2a2a" stroke-width="0.12">2.5</text>
<line x1="299.90" y1="263.40" x2="299.90" y2="266.40" stroke="#333333" stroke-width="0.95" />
<text transform="translate(299.90,274.80) scale(1.09,1)" x="0" y="0" font-size="5.92" fill="#2a2a2a" text-anchor="middle" stroke="#2a2a2a" stroke-width="0.12">5</text>
<line x1="325.90" y1="263.40" x2="325.90" y2="266.40" stroke="#333333" stroke-width="0.95" />
<text transform="translate(325.90,274.80) scale(1.09,1)" x="0" y="0" font-size="5.92" fill="#2a2a2a" text-anchor="middle" stroke="#2a2a2a" stroke-width="0.12">7.5</text>
<line x1="351.90" y1="263.40" x2="351.90" y2="266.40" stroke="#333333" stroke-width="0.95" />
<text transform="translate(351.90,274.80) scale(1.09,1)" x="0" y="0" font-size="5.92" fill="#2a2a2a" text-anchor="middle" stroke="#2a2a2a" stroke-width="0.12">10</text>
<text x="299.10" y="283.40" font-size="8.4" fill="#2a2a2a" text-anchor="middle" textLength="44.5" lengthAdjust="spacingAndGlyphs" stroke="#2a2a2a" stroke-width="0.38" word-spacing="0.8">Follow-up (years)</text>
<text x="253.50" y="195.80" font-size="6.56" fill="#2a2a2a" textLength="90.5" lengthAdjust="spacingAndGlyphs" stroke="#2a2a2a" stroke-width="0.12">OS - Probe_221770_at_RPE</text>
<text transform="translate(218.80,236.40) rotate(-90)" x="0" y="0" font-size="8.8" fill="#2a2a2a" text-anchor="middle" textLength="65.5" lengthAdjust="spacingAndGlyphs" stroke="#2a2a2a" stroke-width="0.22">Overall survival probability</text>
<polyline points="247.90,210.80 250.40,211.91 254.45,218.12 257.36,219.39 264.33,221.51 269.01,224.94 271.92,226.25 278.06,226.25 282.84,227.97 292.10,229.49 351.90,229.49" fill="none" stroke="#30556f" stroke-width="1.6" stroke-linejoin="round"/>
<polyline points="247.90,210.80 250.40,211.91 253.93,215.85 257.36,216.86 263.19,218.38 267.14,219.89 269.43,221.51 278.06,222.16 351.90,222.16" fill="none" stroke="#b93b5a" stroke-width="1.6" stroke-linejoin="round" stroke-opacity="0.92"/>
<line x1="330.80" y1="236.40" x2="336.25" y2="236.40" stroke="#30556f" stroke-width="1.3" />
<text transform="translate(338.80,238.60) scale(1.09,1)" x="0" y="0" font-size="5.5" fill="#2a2a2a" stroke="#2a2a2a" stroke-width="0.12">Low</text>
<line x1="330.80" y1="244.40" x2="336.25" y2="244.40" stroke="#b93b5a" stroke-width="1.3" />
<text transform="translate(338.80,246.60) scale(1.09,1)" x="0" y="0" font-size="5.5" fill="#2a2a2a" stroke="#2a2a2a" stroke-width="0.12">High</text>
<text transform="translate(252.70,252.60) scale(1.09,1)" x="0" y="0" font-size="5.55" fill="#2a2a2a" stroke="#2a2a2a" stroke-width="0.12">Unadj: HR = 0.69, <tspan font-style="italic">P</tspan> = .014*</text>
<text transform="translate(252.70,259.50) scale(1.09,1)" x="0" y="0" font-size="5.55" fill="#2a2a2a" stroke="#2a2a2a" stroke-width="0.12">Risk adj: HR = 0.64, <tspan font-style="italic">P</tspan> = .004**</text>
<text transform="translate(242.50,297.40) scale(1.09,1)" x="0" y="0" font-size="6.33" fill="#2a2a2a" stroke="#2a2a2a" stroke-width="0.12">Number at risk</text>
<line x1="242.50" y1="301.00" x2="242.50" y2="321.50" stroke="#333333" stroke-width="1.2" />
<line x1="241.90" y1="320.90" x2="354.90" y2="320.90" stroke="#333333" stroke-width="1.2" />
<line x1="239.50" y1="304.50" x2="242.50" y2="304.50" stroke="#333333" stroke-width="0.95" />
<text transform="translate(236.60,306.80) scale(1.09,1)" x="0" y="0" font-size="5.92" fill="#30556f" text-anchor="end" stroke="#30556f" stroke-width="0.12">Low</text>
<text transform="translate(247.90,306.80) scale(1.09,1)" x="0" y="0" font-size="5.92" fill="#30556f" text-anchor="middle" stroke="#30556f" stroke-width="0.12">81</text>
<text transform="translate(273.90,306.80) scale(1.09,1)" x="0" y="0" font-size="5.92" fill="#30556f" text-anchor="middle" stroke="#30556f" stroke-width="0.12">54</text>
<text transform="translate(299.90,306.80) scale(1.09,1)" x="0" y="0" font-size="5.92" fill="#30556f" text-anchor="middle" stroke="#30556f" stroke-width="0.12">36</text>
<text transform="translate(325.90,306.80) scale(1.09,1)" x="0" y="0" font-size="5.92" fill="#30556f" text-anchor="middle" stroke="#30556f" stroke-width="0.12">21</text>
<text transform="translate(351.90,306.80) scale(1.09,1)" x="0" y="0" font-size="5.92" fill="#30556f" text-anchor="middle" stroke="#30556f" stroke-width="0.12">13</text>
<line x1="239.50" y1="313.90" x2="242.50" y2="313.90" stroke="#333333" stroke-width="0.95" />
<text transform="translate(236.60,316.20) scale(1.09,1)" x="0" y="0" font-size="5.92" fill="#b93b5a" text-anchor="end" stroke="#b93b5a" stroke-width="0.12">High</text>
<text transform="translate(247.90,316.20) scale(1.09,1)" x="0" y="0" font-size="5.92" fill="#b93b5a" text-anchor="middle" stroke="#b93b5a" stroke-width="0.12">82</text>
<text transform="translate(273.90,316.20) scale(1.09,1)" x="0" y="0" font-size="5.92" fill="#b93b5a" text-anchor="middle" stroke="#b93b5a" stroke-width="0.12">63</text>
<text transform="translate(299.90,316.20) scale(1.09,1)" x="0" y="0" font-size="5.92" fill="#b93b5a" text-anchor="middle" stroke="#b93b5a" stroke-width="0.12">60</text>
<text transform="translate(325.90,316.20) scale(1.09,1)" x="0" y="0" font-size="5.92" fill="#b93b5a" text-anchor="middle" stroke="#b93b5a" stroke-width="0.12">53</text>
<text transform="translate(351.90,316.20) scale(1.09,1)" x="0" y="0" font-size="5.92" fill="#b93b5a" text-anchor="middle" stroke="#b93b5a" stroke-width="0.12">46</text>
<line x1="247.90" y1="320.90" x2="247.90" y2="323.90" stroke="#333333" stroke-width="0.95" />
<text transform="translate(247.90,332.30) scale(1.09,1)" x="0" y="0" font-size="5.92" fill="#2a2a2a" text-anchor="middle" stroke="#2a2a2a" stroke-width="0.12">0</text>
<line x1="273.90" y1="320.90" x2="273.90" y2="323.90" stroke="#333333" stroke-width="0.95" />
<text transform="translate(273.90,332.30) scale(1.09,1)" x="0" y="0" font-size="5.92" fill="#2a2a2a" text-anchor="middle" stroke="#2a2a2a" stroke-width="0.12">2.5</text>
<line x1="299.90" y1="320.90" x2="299.90" y2="323.90" stroke="#333333" stroke-width="0.95" />
<text transform="translate(299.90,332.30) scale(1.09,1)" x="0" y="0" font-size="5.92" fill="#2a2a2a" text-anchor="middle" stroke="#2a2a2a" stroke-width="0.12">5</text>
<line x1="325.90" y1="320.90" x2="325.90" y2="323.90" stroke="#333333" stroke-width="0.95" />
<text transform="translate(325.90,332.30) scale(1.09,1)" x="0" y="0" font-size="5.92" fill="#2a2a2a" text-anchor="middle" stroke="#2a2a2a" stroke-width="0.12">7.5</text>
<line x1="351.90" y1="320.90" x2="351.90" y2="323.90" stroke="#333333" stroke-width="0.95" />
<text transform="translate(351.90,332.30) scale(1.09,1)" x="0" y="0" font-size="5.92" fill="#2a2a2a" text-anchor="middle" stroke="#2a2a2a" stroke-width="0.12">10</text>
<text x="302.50" y="343.70" font-size="8.4" fill="#2a2a2a" text-anchor="middle" textLength="44.5" lengthAdjust="spacingAndGlyphs" stroke="#2a2a2a" stroke-width="0.3" word-spacing="0.8">Follow-up (years)</text>
<line x1="67.40" y1="379.20" x2="67.40" y2="435.60" stroke="#333333" stroke-width="1.2" />
<line x1="66.80" y1="435.00" x2="179.60" y2="435.00" stroke="#333333" stroke-width="1.2" />
<line x1="64.40" y1="432.90" x2="67.40" y2="432.90" stroke="#333333" stroke-width="0.95" />
<text transform="translate(61.50,435.20) scale(1.09,1)" x="0" y="0" font-size="5.92" fill="#2a2a2a" text-anchor="end" stroke="#2a2a2a" stroke-width="0.12">0.00</text>
<line x1="64.40" y1="420.27" x2="67.40" y2="420.27" stroke="#333333" stroke-width="0.95" />
<text transform="translate(61.50,422.57) scale(1.09,1)" x="0" y="0" font-size="5.92" fill="#2a2a2a" text-anchor="end" stroke="#2a2a2a" stroke-width="0.12">0.25</text>
<line x1="64.40" y1="407.65" x2="67.40" y2="407.65" stroke="#333333" stroke-width="0.95" />
<text transform="translate(61.50,409.95) scale(1.09,1)" x="0" y="0" font-size="5.92" fill="#2a2a2a" text-anchor="end" stroke="#2a2a2a" stroke-width="0.12">0.50</text>
<line x1="64.40" y1="395.02" x2="67.40" y2="395.02" stroke="#333333" stroke-width="0.95" />
<text transform="translate(61.50,397.32) scale(1.09,1)" x="0" y="0" font-size="5.92" fill="#2a2a2a" text-anchor="end" stroke="#2a2a2a" stroke-width="0.12">0.75</text>
<line x1="64.40" y1="382.40" x2="67.40" y2="382.40" stroke="#333333" stroke-width="0.95" />
<text transform="translate(61.50,384.70) scale(1.09,1)" x="0" y="0" font-size="5.92" fill="#2a2a2a" text-anchor="end" stroke="#2a2a2a" stroke-width="0.12">1.00</text>
<line x1="72.70" y1="435.00" x2="72.70" y2="438.00" stroke="#333333" stroke-width="0.95" />
<text transform="translate(72.70,446.40) scale(1.09,1)" x="0" y="0" font-size="5.92" fill="#2a2a2a" text-anchor="middle" stroke="#2a2a2a" stroke-width="0.12">0</text>
<line x1="98.68" y1="435.00" x2="98.68" y2="438.00" stroke="#333333" stroke-width="0.95" />
<text transform="translate(98.68,446.40) scale(1.09,1)" x="0" y="0" font-size="5.92" fill="#2a2a2a" text-anchor="middle" stroke="#2a2a2a" stroke-width="0.12">2.5</text>
<line x1="124.65" y1="435.00" x2="124.65" y2="438.00" stroke="#333333" stroke-width="0.95" />
<text transform="translate(124.65,446.40) scale(1.09,1)" x="0" y="0" font-size="5.92" fill="#2a2a2a" text-anchor="middle" stroke="#2a2a2a" stroke-width="0.12">5</text>
<line x1="150.62" y1="435.00" x2="150.62" y2="438.00" stroke="#333333" stroke-width="0.95" />
<text transform="translate(150.62,446.40) scale(1.09,1)" x="0" y="0" font-size="5.92" fill="#2a2a2a" text-anchor="middle" stroke="#2a2a2a" stroke-width="0.12">7.5</text>
<line x1="176.60" y1="435.00" x2="176.60" y2="438.00" stroke="#333333" stroke-width="0.95" />
<text transform="translate(176.60,446.40) scale(1.09,1)" x="0" y="0" font-size="5.92" fill="#2a2a2a" text-anchor="middle" stroke="#2a2a2a" stroke-width="0.12">10</text>
<text x="123.85" y="455.00" font-size="8.4" fill="#2a2a2a" text-anchor="middle" textLength="44.5" lengthAdjust="spacingAndGlyphs" stroke="#2a2a2a" stroke-width="0.38" word-spacing="0.8">Follow-up (years)</text>
<text x="70.30" y="367.40" font-size="6.56" fill="#2a2a2a" textLength="106.2" lengthAdjust="spacingAndGlyphs" stroke="#2a2a2a" stroke-width="0.12">OS - Probe_201897_s_at_CKS1B</text>
<text transform="translate(42.60,408.50) rotate(-90)" x="0" y="0" font-size="8.8" fill="#2a2a2a" text-anchor="middle" textLength="65.5" lengthAdjust="spacingAndGlyphs" stroke="#2a2a2a" stroke-width="0.22">Overall survival probability</text>
<text transform="translate(29.90,409.20) rotate(-90) skewX(-13)" x="0" y="0" font-size="8.8" fill="#2a2a2a" text-anchor="middle" textLength="29.6" lengthAdjust="spacingAndGlyphs" stroke="#2a2a2a" stroke-width="0.3">CKS1B</text>
<polyline points="72.70,382.40 75.82,385.93 77.58,389.27 80.49,390.98 89.22,394.01 92.75,396.54 95.04,397.70 100.75,398.26 103.14,399.06 109.06,400.07 176.60,400.23" fill="none" stroke="#30556f" stroke-width="1.6" stroke-linejoin="round"/>
<polyline points="72.70,382.40 75.82,383.71 77.58,385.13 80.49,387.45 86.93,389.47 92.75,391.69 95.04,393.51 103.14,393.76 115.92,394.52 176.60,394.52" fill="none" stroke="#b93b5a" stroke-width="1.6" stroke-linejoin="round" stroke-opacity="0.92"/>
<line x1="155.80" y1="380.50" x2="161.30" y2="380.50" stroke="#30556f" stroke-width="1.3" />
<text transform="translate(164.00,382.70) scale(1.09,1)" x="0" y="0" font-size="5.5" fill="#2a2a2a" stroke="#2a2a2a" stroke-width="0.12">Low</text>
<line x1="155.80" y1="388.50" x2="161.30" y2="388.50" stroke="#b93b5a" stroke-width="1.3" />
<text transform="translate(164.00,390.70) scale(1.09,1)" x="0" y="0" font-size="5.5" fill="#2a2a2a" stroke="#2a2a2a" stroke-width="0.12">High</text>
<text transform="translate(78.00,424.60) scale(1.09,1)" x="0" y="0" font-size="5.55" fill="#2a2a2a" stroke="#2a2a2a" stroke-width="0.12">Unadj: HR = 0.39, <tspan font-style="italic">P</tspan> = .003**</text>
<text transform="translate(78.00,431.50) scale(1.09,1)" x="0" y="0" font-size="5.55" fill="#2a2a2a" stroke="#2a2a2a" stroke-width="0.12">Risk adj: HR = 0.39, <tspan font-style="italic">P</tspan> = .002**</text>
<text transform="translate(67.50,469.20) scale(1.09,1)" x="0" y="0" font-size="6.33" fill="#2a2a2a" stroke="#2a2a2a" stroke-width="0.12">Number at risk</text>
<line x1="67.40" y1="472.60" x2="67.40" y2="493.10" stroke="#333333" stroke-width="1.2" />
<line x1="66.80" y1="492.50" x2="179.60" y2="492.50" stroke="#333333" stroke-width="1.2" />
<line x1="64.40" y1="476.10" x2="67.40" y2="476.10" stroke="#333333" stroke-width="0.95" />
<text transform="translate(61.50,478.40) scale(1.09,1)" x="0" y="0" font-size="5.92" fill="#30556f" text-anchor="end" stroke="#30556f" stroke-width="0.12">Low</text>
<text transform="translate(72.70,478.40) scale(1.09,1)" x="0" y="0" font-size="5.92" fill="#30556f" text-anchor="middle" stroke="#30556f" stroke-width="0.12">81</text>
<text transform="translate(98.68,478.40) scale(1.09,1)" x="0" y="0" font-size="5.92" fill="#30556f" text-anchor="middle" stroke="#30556f" stroke-width="0.12">54</text>
<text transform="translate(124.65,478.40) scale(1.09,1)" x="0" y="0" font-size="5.92" fill="#30556f" text-anchor="middle" stroke="#30556f" stroke-width="0.12">44</text>
<text transform="translate(150.62,478.40) scale(1.09,1)" x="0" y="0" font-size="5.92" fill="#30556f" text-anchor="middle" stroke="#30556f" stroke-width="0.12">32</text>
<text transform="translate(176.60,478.40) scale(1.09,1)" x="0" y="0" font-size="5.92" fill="#30556f" text-anchor="middle" stroke="#30556f" stroke-width="0.12">25</text>
<line x1="64.40" y1="485.50" x2="67.40" y2="485.50" stroke="#333333" stroke-width="0.95" />
<text transform="translate(61.50,487.80) scale(1.09,1)" x="0" y="0" font-size="5.92" fill="#b93b5a" text-anchor="end" stroke="#b93b5a" stroke-width="0.12">High</text>
<text transform="translate(72.70,487.80) scale(1.09,1)" x="0" y="0" font-size="5.92" fill="#b93b5a" text-anchor="middle" stroke="#b93b5a" stroke-width="0.12">82</text>
<text transform="translate(98.68,487.80) scale(1.09,1)" x="0" y="0" font-size="5.92" fill="#b93b5a" text-anchor="middle" stroke="#b93b5a" stroke-width="0.12">63</text>
<text transform="translate(124.65,487.80) scale(1.09,1)" x="0" y="0" font-size="5.92" fill="#b93b5a" text-anchor="middle" stroke="#b93b5a" stroke-width="0.12">52</text>
<text transform="translate(150.62,487.80) scale(1.09,1)" x="0" y="0" font-size="5.92" fill="#b93b5a" text-anchor="middle" stroke="#b93b5a" stroke-width="0.12">42</text>
<text transform="translate(176.60,487.80) scale(1.09,1)" x="0" y="0" font-size="5.92" fill="#b93b5a" text-anchor="middle" stroke="#b93b5a" stroke-width="0.12">34</text>
<line x1="72.70" y1="492.50" x2="72.70" y2="495.50" stroke="#333333" stroke-width="0.95" />
<text transform="translate(72.70,503.90) scale(1.09,1)" x="0" y="0" font-size="5.92" fill="#2a2a2a" text-anchor="middle" stroke="#2a2a2a" stroke-width="0.12">0</text>
<line x1="98.68" y1="492.50" x2="98.68" y2="495.50" stroke="#333333" stroke-width="0.95" />
<text transform="translate(98.68,503.90) scale(1.09,1)" x="0" y="0" font-size="5.92" fill="#2a2a2a" text-anchor="middle" stroke="#2a2a2a" stroke-width="0.12">2.5</text>
<line x1="124.65" y1="492.50" x2="124.65" y2="495.50" stroke="#333333" stroke-width="0.95" />
<text transform="translate(124.65,503.90) scale(1.09,1)" x="0" y="0" font-size="5.92" fill="#2a2a2a" text-anchor="middle" stroke="#2a2a2a" stroke-width="0.12">5</text>
<line x1="150.62" y1="492.50" x2="150.62" y2="495.50" stroke="#333333" stroke-width="0.95" />
<text transform="translate(150.62,503.90) scale(1.09,1)" x="0" y="0" font-size="5.92" fill="#2a2a2a" text-anchor="middle" stroke="#2a2a2a" stroke-width="0.12">7.5</text>
<line x1="176.60" y1="492.50" x2="176.60" y2="495.50" stroke="#333333" stroke-width="0.95" />
<text transform="translate(176.60,503.90) scale(1.09,1)" x="0" y="0" font-size="5.92" fill="#2a2a2a" text-anchor="middle" stroke="#2a2a2a" stroke-width="0.12">10</text>
<text x="127.25" y="515.30" font-size="8.4" fill="#2a2a2a" text-anchor="middle" textLength="44.5" lengthAdjust="spacingAndGlyphs" stroke="#2a2a2a" stroke-width="0.3" word-spacing="0.8">Follow-up (years)</text>
<line x1="242.90" y1="379.20" x2="242.90" y2="435.60" stroke="#333333" stroke-width="1.2" />
<line x1="242.30" y1="435.00" x2="354.00" y2="435.00" stroke="#333333" stroke-width="1.2" />
<line x1="239.90" y1="432.90" x2="242.90" y2="432.90" stroke="#333333" stroke-width="0.95" />
<text transform="translate(237.00,435.20) scale(1.09,1)" x="0" y="0" font-size="5.92" fill="#2a2a2a" text-anchor="end" stroke="#2a2a2a" stroke-width="0.12">0.00</text>
<line x1="239.90" y1="420.27" x2="242.90" y2="420.27" stroke="#333333" stroke-width="0.95" />
<text transform="translate(237.00,422.57) scale(1.09,1)" x="0" y="0" font-size="5.92" fill="#2a2a2a" text-anchor="end" stroke="#2a2a2a" stroke-width="0.12">0.25</text>
<line x1="239.90" y1="407.65" x2="242.90" y2="407.65" stroke="#333333" stroke-width="0.95" />
<text transform="translate(237.00,409.95) scale(1.09,1)" x="0" y="0" font-size="5.92" fill="#2a2a2a" text-anchor="end" stroke="#2a2a2a" stroke-width="0.12">0.50</text>
<line x1="239.90" y1="395.02" x2="242.90" y2="395.02" stroke="#333333" stroke-width="0.95" />
<text transform="translate(237.00,397.32) scale(1.09,1)" x="0" y="0" font-size="5.92" fill="#2a2a2a" text-anchor="end" stroke="#2a2a2a" stroke-width="0.12">0.75</text>
<line x1="239.90" y1="382.40" x2="242.90" y2="382.40" stroke="#333333" stroke-width="0.95" />
<text transform="translate(237.00,384.70) scale(1.09,1)" x="0" y="0" font-size="5.92" fill="#2a2a2a" text-anchor="end" stroke="#2a2a2a" stroke-width="0.12">1.00</text>
<line x1="247.80" y1="435.00" x2="247.80" y2="438.00" stroke="#333333" stroke-width="0.95" />
<text transform="translate(247.80,446.40) scale(1.09,1)" x="0" y="0" font-size="5.92" fill="#2a2a2a" text-anchor="middle" stroke="#2a2a2a" stroke-width="0.12">0.0</text>
<line x1="273.73" y1="435.00" x2="273.73" y2="438.00" stroke="#333333" stroke-width="0.95" />
<text transform="translate(273.73,446.40) scale(1.09,1)" x="0" y="0" font-size="5.92" fill="#2a2a2a" text-anchor="middle" stroke="#2a2a2a" stroke-width="0.12">2.5</text>
<line x1="299.65" y1="435.00" x2="299.65" y2="438.00" stroke="#333333" stroke-width="0.95" />
<text transform="translate(299.65,446.40) scale(1.09,1)" x="0" y="0" font-size="5.92" fill="#2a2a2a" text-anchor="middle" stroke="#2a2a2a" stroke-width="0.12">5.0</text>
<line x1="325.57" y1="435.00" x2="325.57" y2="438.00" stroke="#333333" stroke-width="0.95" />
<text transform="translate(325.57,446.40) scale(1.09,1)" x="0" y="0" font-size="5.92" fill="#2a2a2a" text-anchor="middle" stroke="#2a2a2a" stroke-width="0.12">7.5</text>
<line x1="351.50" y1="435.00" x2="351.50" y2="438.00" stroke="#333333" stroke-width="0.95" />
<text transform="translate(351.50,446.40) scale(1.09,1)" x="0" y="0" font-size="5.92" fill="#2a2a2a" text-anchor="middle" stroke="#2a2a2a" stroke-width="0.12">10.0</text>
<text x="298.85" y="455.00" font-size="8.4" fill="#2a2a2a" text-anchor="middle" textLength="44.5" lengthAdjust="spacingAndGlyphs" stroke="#2a2a2a" stroke-width="0.38" word-spacing="0.8">Follow-up (years)</text>
<text x="248.20" y="367.40" font-size="6.56" fill="#2a2a2a" textLength="101.40000000000003" lengthAdjust="spacingAndGlyphs" stroke="#2a2a2a" stroke-width="0.12">RR - Probe_203626_s_at_SKP2</text>
<text transform="translate(219.50,407.70) rotate(-90)" x="0" y="0" font-size="8.8" fill="#2a2a2a" text-anchor="middle" textLength="62.7" lengthAdjust="spacingAndGlyphs" stroke="#2a2a2a" stroke-width="0.22">RR cumulative incidence</text>
<text transform="translate(205.80,408.60) rotate(-90) skewX(-13)" x="0" y="0" font-size="8.8" fill="#2a2a2a" text-anchor="middle" textLength="23.0" lengthAdjust="spacingAndGlyphs" stroke="#2a2a2a" stroke-width="0.3">SKP2</text>
<polyline points="247.80,432.90 249.04,430.48 253.09,427.95 255.37,425.63 258.27,422.09 261.18,420.68 264.70,419.52 278.60,419.52 279.74,418.00 293.64,418.00 294.88,417.19 351.50,417.19" fill="none" stroke="#30556f" stroke-width="1.6" stroke-linejoin="round"/>
<polyline points="247.80,432.90 249.56,430.88 253.09,429.67 257.13,424.42 261.18,423.61 266.98,422.29 270.30,421.89 351.50,421.89" fill="none" stroke="#b93b5a" stroke-width="1.6" stroke-linejoin="round" stroke-opacity="0.92"/>
<line x1="330.80" y1="380.50" x2="336.25" y2="380.50" stroke="#30556f" stroke-width="1.3" />
<text transform="translate(338.80,382.70) scale(1.09,1)" x="0" y="0" font-size="5.5" fill="#2a2a2a" stroke="#2a2a2a" stroke-width="0.12">Low</text>
<line x1="330.80" y1="388.50" x2="336.25" y2="388.50" stroke="#b93b5a" stroke-width="1.3" />
<text transform="translate(338.80,390.70) scale(1.09,1)" x="0" y="0" font-size="5.5" fill="#2a2a2a" stroke="#2a2a2a" stroke-width="0.12">High</text>
<text transform="translate(252.70,402.70) scale(1.09,1)" x="0" y="0" font-size="5.55" fill="#2a2a2a" stroke="#2a2a2a" stroke-width="0.12">Unadj: HR = 0.65, <tspan font-style="italic">P</tspan> = .039*</text>
<text transform="translate(252.70,409.60) scale(1.09,1)" x="0" y="0" font-size="5.55" fill="#2a2a2a" stroke="#2a2a2a" stroke-width="0.12">Risk adj: HR = 0.61, <tspan font-style="italic">P</tspan> = .019*</text>
<text transform="translate(239.70,469.40) scale(1.09,1)" x="0" y="0" font-size="6.33" fill="#2a2a2a" stroke="#2a2a2a" stroke-width="0.12">Number at risk</text>
<line x1="235.60" y1="476.50" x2="240.80" y2="476.50" stroke="#30556f" stroke-width="1.4" />
<text transform="translate(247.30,478.80) scale(1.09,1)" x="0" y="0" font-size="5.92" fill="#2a2a2a" text-anchor="middle" stroke="#2a2a2a" stroke-width="0.12">81</text>
<text transform="translate(273.73,478.80) scale(1.09,1)" x="0" y="0" font-size="5.92" fill="#2a2a2a" text-anchor="middle" stroke="#2a2a2a" stroke-width="0.12">47</text>
<text transform="translate(299.65,478.80) scale(1.09,1)" x="0" y="0" font-size="5.92" fill="#2a2a2a" text-anchor="middle" stroke="#2a2a2a" stroke-width="0.12">35</text>
<text transform="translate(325.57,478.80) scale(1.09,1)" x="0" y="0" font-size="5.92" fill="#2a2a2a" text-anchor="middle" stroke="#2a2a2a" stroke-width="0.12">22</text>
<text transform="translate(351.50,478.80) scale(1.09,1)" x="0" y="0" font-size="5.92" fill="#2a2a2a" text-anchor="middle" stroke="#2a2a2a" stroke-width="0.12">15</text>
<line x1="235.60" y1="485.80" x2="240.80" y2="485.80" stroke="#b93b5a" stroke-width="1.4" />
<text transform="translate(247.30,488.10) scale(1.09,1)" x="0" y="0" font-size="5.92" fill="#2a2a2a" text-anchor="middle" stroke="#2a2a2a" stroke-width="0.12">82</text>
<text transform="translate(273.73,488.10) scale(1.09,1)" x="0" y="0" font-size="5.92" fill="#2a2a2a" text-anchor="middle" stroke="#2a2a2a" stroke-width="0.12">55</text>
<text transform="translate(299.65,488.10) scale(1.09,1)" x="0" y="0" font-size="5.92" fill="#2a2a2a" text-anchor="middle" stroke="#2a2a2a" stroke-width="0.12">47</text>
<text transform="translate(325.57,488.10) scale(1.09,1)" x="0" y="0" font-size="5.92" fill="#2a2a2a" text-anchor="middle" stroke="#2a2a2a" stroke-width="0.12">44</text>
<text transform="translate(351.50,488.10) scale(1.09,1)" x="0" y="0" font-size="5.92" fill="#2a2a2a" text-anchor="middle" stroke="#2a2a2a" stroke-width="0.12">36</text>
<text x="0.30" y="10.90" font-size="12.4" fill="#111" font-weight="bold" stroke="#111" stroke-width="0.35">B</text>
<line x1="446.90" y1="217.60" x2="426.20" y2="254.40" stroke="#a8acb6" stroke-width="0.6" />
<line x1="446.90" y1="217.60" x2="445.00" y2="263.90" stroke="#a8acb6" stroke-width="0.6" />
<line x1="495.70" y1="215.40" x2="445.00" y2="263.90" stroke="#a8acb6" stroke-width="0.6" />
<line x1="495.70" y1="215.40" x2="461.90" y2="278.90" stroke="#a8acb6" stroke-width="0.6" />
<line x1="466.90" y1="238.00" x2="426.20" y2="254.40" stroke="#a8acb6" stroke-width="0.6" />
<line x1="466.90" y1="238.00" x2="461.90" y2="278.90" stroke="#a8acb6" stroke-width="0.6" />
<line x1="466.90" y1="238.00" x2="438.70" y2="302.60" stroke="#a8acb6" stroke-width="0.6" />
<line x1="484.20" y1="247.40" x2="461.90" y2="278.90" stroke="#a8acb6" stroke-width="0.6" />
<line x1="445.00" y1="263.90" x2="438.70" y2="302.60" stroke="#a8acb6" stroke-width="0.6" />
<line x1="503.90" y1="266.00" x2="461.90" y2="278.90" stroke="#a8acb6" stroke-width="0.6" />
<line x1="461.90" y1="278.90" x2="438.70" y2="302.60" stroke="#a8acb6" stroke-width="0.6" />
<line x1="479.90" y1="287.60" x2="488.10" y2="313.30" stroke="#a8acb6" stroke-width="0.6" />
<line x1="438.70" y1="302.60" x2="488.10" y2="313.30" stroke="#a8acb6" stroke-width="0.6" />
<line x1="446.90" y1="217.60" x2="495.70" y2="215.40" stroke="#5f6677" stroke-width="0.85" />
<line x1="446.90" y1="217.60" x2="484.20" y2="247.40" stroke="#5f6677" stroke-width="0.85" />
<line x1="446.90" y1="217.60" x2="479.90" y2="287.60" stroke="#5f6677" stroke-width="0.85" />
<line x1="466.90" y1="238.00" x2="445.00" y2="263.90" stroke="#5f6677" stroke-width="0.85" />
<line x1="484.20" y1="247.40" x2="438.70" y2="302.60" stroke="#5f6677" stroke-width="0.85" />
<line x1="484.20" y1="247.40" x2="488.10" y2="313.30" stroke="#5f6677" stroke-width="0.85" />
<line x1="426.20" y1="254.40" x2="503.90" y2="266.00" stroke="#5f6677" stroke-width="0.85" />
<line x1="426.20" y1="254.40" x2="488.10" y2="313.30" stroke="#5f6677" stroke-width="0.85" />
<line x1="445.00" y1="263.90" x2="479.90" y2="287.60" stroke="#5f6677" stroke-width="0.85" />
<line x1="461.90" y1="278.90" x2="479.90" y2="287.60" stroke="#5f6677" stroke-width="0.85" />
<line x1="446.90" y1="217.60" x2="503.90" y2="266.00" stroke="#454c5f" stroke-width="1.15" />
<line x1="446.90" y1="217.60" x2="461.90" y2="278.90" stroke="#454c5f" stroke-width="1.15" />
<line x1="446.90" y1="217.60" x2="438.70" y2="302.60" stroke="#454c5f" stroke-width="1.15" />
<line x1="495.70" y1="215.40" x2="466.90" y2="238.00" stroke="#454c5f" stroke-width="1.15" />
<line x1="495.70" y1="215.40" x2="503.90" y2="266.00" stroke="#454c5f" stroke-width="1.15" />
<line x1="495.70" y1="215.40" x2="479.90" y2="287.60" stroke="#454c5f" stroke-width="1.15" />
<line x1="495.70" y1="215.40" x2="488.10" y2="313.30" stroke="#454c5f" stroke-width="1.15" />
<line x1="466.90" y1="238.00" x2="484.20" y2="247.40" stroke="#454c5f" stroke-width="1.15" />
<line x1="466.90" y1="238.00" x2="503.90" y2="266.00" stroke="#454c5f" stroke-width="1.15" />
<line x1="466.90" y1="238.00" x2="479.90" y2="287.60" stroke="#454c5f" stroke-width="1.15" />
<line x1="466.90" y1="238.00" x2="488.10" y2="313.30" stroke="#454c5f" stroke-width="1.15" />
<line x1="484.20" y1="247.40" x2="426.20" y2="254.40" stroke="#454c5f" stroke-width="1.15" />
<line x1="484.20" y1="247.40" x2="445.00" y2="263.90" stroke="#454c5f" stroke-width="1.15" />
<line x1="484.20" y1="247.40" x2="479.90" y2="287.60" stroke="#454c5f" stroke-width="1.15" />
<line x1="426.20" y1="254.40" x2="445.00" y2="263.90" stroke="#454c5f" stroke-width="1.15" />
<line x1="426.20" y1="254.40" x2="461.90" y2="278.90" stroke="#454c5f" stroke-width="1.15" />
<line x1="426.20" y1="254.40" x2="479.90" y2="287.60" stroke="#454c5f" stroke-width="1.15" />
<line x1="426.20" y1="254.40" x2="438.70" y2="302.60" stroke="#454c5f" stroke-width="1.15" />
<line x1="445.00" y1="263.90" x2="503.90" y2="266.00" stroke="#454c5f" stroke-width="1.15" />
<line x1="445.00" y1="263.90" x2="488.10" y2="313.30" stroke="#454c5f" stroke-width="1.15" />
<line x1="503.90" y1="266.00" x2="479.90" y2="287.60" stroke="#454c5f" stroke-width="1.15" />
<line x1="503.90" y1="266.00" x2="438.70" y2="302.60" stroke="#454c5f" stroke-width="1.15" />
<line x1="503.90" y1="266.00" x2="488.10" y2="313.30" stroke="#454c5f" stroke-width="1.15" />
<line x1="461.90" y1="278.90" x2="488.10" y2="313.30" stroke="#454c5f" stroke-width="1.15" />
<line x1="479.90" y1="287.60" x2="438.70" y2="302.60" stroke="#454c5f" stroke-width="1.15" />
<line x1="446.90" y1="217.60" x2="466.90" y2="238.00" stroke="#454c5f" stroke-width="2.0" />
<line x1="495.70" y1="215.40" x2="484.20" y2="247.40" stroke="#454c5f" stroke-width="2.0" />
<line x1="484.20" y1="247.40" x2="503.90" y2="266.00" stroke="#454c5f" stroke-width="2.0" />
<line x1="445.00" y1="263.90" x2="461.90" y2="278.90" stroke="#454c5f" stroke-width="2.0" />
<circle cx="446.9" cy="217.6" r="8.7" fill="#cccccc"/>
<text x="446.90" y="219.20" font-size="4.5" fill="#383838" text-anchor="middle" stroke="#383838" stroke-width="0.06">PFKM</text>
<circle cx="495.7" cy="215.4" r="8.6" fill="#cccccc"/>
<text x="495.70" y="217.00" font-size="4.5" fill="#383838" text-anchor="middle" stroke="#383838" stroke-width="0.06">ALDOA</text>
<circle cx="466.9" cy="238.0" r="8.7" fill="#cccccc"/>
<text x="466.90" y="239.60" font-size="4.5" fill="#383838" text-anchor="middle" stroke="#383838" stroke-width="0.06">GPI</text>
<circle cx="484.2" cy="247.4" r="8.7" fill="#cccccc"/>
<text x="484.20" y="249.00" font-size="4.5" fill="#383838" text-anchor="middle" stroke="#383838" stroke-width="0.06">TPI1</text>
<circle cx="426.2" cy="254.4" r="8.6" fill="#cccccc"/>
<text x="426.20" y="256.00" font-size="4.5" fill="#383838" text-anchor="middle" stroke="#383838" stroke-width="0.06">RPIA</text>
<circle cx="445.0" cy="263.9" r="9.1" fill="#bb3f9f"/>
<text x="445.00" y="265.50" font-size="4.5" fill="#383838" text-anchor="middle" stroke="#383838" stroke-width="0.06">RPE</text>
<circle cx="503.9" cy="266.0" r="9.0" fill="#5652bd"/>
<text x="503.90" y="267.60" font-size="4.5" fill="#383838" text-anchor="middle" stroke="#383838" stroke-width="0.06">TKT</text>
<circle cx="461.9" cy="278.9" r="8.7" fill="#cccccc"/>
<text x="461.90" y="280.50" font-size="4.5" fill="#383838" text-anchor="middle" stroke="#383838" stroke-width="0.06">TALDO1</text>
<circle cx="479.9" cy="287.6" r="8.7" fill="#cccccc"/>
<text x="479.90" y="289.20" font-size="4.5" fill="#383838" text-anchor="middle" stroke="#383838" stroke-width="0.06">H6PD</text>
<circle cx="438.7" cy="302.6" r="8.6" fill="#cccccc"/>
<text x="438.70" y="304.20" font-size="4.5" fill="#383838" text-anchor="middle" stroke="#383838" stroke-width="0.06">RBKS</text>
<circle cx="488.1" cy="313.3" r="8.7" fill="#cccccc"/>
<text x="488.10" y="314.90" font-size="4.5" fill="#383838" text-anchor="middle" stroke="#383838" stroke-width="0.06">RPEL1</text>
<line x1="463.40" y1="375.60" x2="488.40" y2="413.20" stroke="#a8acb6" stroke-width="0.6" />
<line x1="488.40" y1="396.60" x2="427.30" y2="403.50" stroke="#a8acb6" stroke-width="0.6" />
<line x1="488.40" y1="396.60" x2="451.10" y2="437.00" stroke="#a8acb6" stroke-width="0.6" />
<line x1="488.40" y1="396.60" x2="496.20" y2="452.30" stroke="#a8acb6" stroke-width="0.6" />
<line x1="488.40" y1="396.60" x2="461.70" y2="479.00" stroke="#a8acb6" stroke-width="0.6" />
<line x1="427.30" y1="403.50" x2="426.20" y2="448.40" stroke="#a8acb6" stroke-width="0.6" />
<line x1="488.40" y1="413.20" x2="477.60" y2="448.80" stroke="#a8acb6" stroke-width="0.6" />
<line x1="443.90" y1="418.40" x2="496.20" y2="452.30" stroke="#a8acb6" stroke-width="0.6" />
<line x1="443.90" y1="418.40" x2="461.70" y2="479.00" stroke="#a8acb6" stroke-width="0.6" />
<line x1="509.10" y1="426.90" x2="451.10" y2="437.00" stroke="#a8acb6" stroke-width="0.6" />
<line x1="451.10" y1="437.00" x2="477.60" y2="448.80" stroke="#a8acb6" stroke-width="0.6" />
<line x1="463.40" y1="375.60" x2="427.30" y2="403.50" stroke="#5f6677" stroke-width="0.85" />
<line x1="463.40" y1="375.60" x2="443.90" y2="418.40" stroke="#5f6677" stroke-width="0.85" />
<line x1="463.40" y1="375.60" x2="509.10" y2="426.90" stroke="#5f6677" stroke-width="0.85" />
<line x1="463.40" y1="375.60" x2="451.10" y2="437.00" stroke="#5f6677" stroke-width="0.85" />
<line x1="463.40" y1="375.60" x2="477.60" y2="448.80" stroke="#5f6677" stroke-width="0.85" />
<line x1="463.40" y1="375.60" x2="496.20" y2="452.30" stroke="#5f6677" stroke-width="0.85" />
<line x1="488.40" y1="396.60" x2="509.10" y2="426.90" stroke="#5f6677" stroke-width="0.85" />
<line x1="488.40" y1="396.60" x2="426.20" y2="448.40" stroke="#5f6677" stroke-width="0.85" />
<line x1="427.30" y1="403.50" x2="488.40" y2="413.20" stroke="#5f6677" stroke-width="0.85" />
<line x1="427.30" y1="403.50" x2="509.10" y2="426.90" stroke="#5f6677" stroke-width="0.85" />
<line x1="488.40" y1="413.20" x2="451.10" y2="437.00" stroke="#5f6677" stroke-width="0.85" />
<line x1="488.40" y1="413.20" x2="426.20" y2="448.40" stroke="#5f6677" stroke-width="0.85" />
<line x1="488.40" y1="413.20" x2="496.20" y2="452.30" stroke="#5f6677" stroke-width="0.85" />
<line x1="488.40" y1="413.20" x2="461.70" y2="479.00" stroke="#5f6677" stroke-width="0.85" />
<line x1="443.90" y1="418.40" x2="426.20" y2="448.40" stroke="#5f6677" stroke-width="0.85" />
<line x1="509.10" y1="426.90" x2="426.20" y2="448.40" stroke="#5f6677" stroke-width="0.85" />
<line x1="451.10" y1="437.00" x2="496.20" y2="452.30" stroke="#5f6677" stroke-width="0.85" />
<line x1="463.40" y1="375.60" x2="488.40" y2="396.60" stroke="#454c5f" stroke-width="1.15" />
<line x1="463.40" y1="375.60" x2="426.20" y2="448.40" stroke="#454c5f" stroke-width="1.15" />
<line x1="488.40" y1="396.60" x2="488.40" y2="413.20" stroke="#454c5f" stroke-width="1.15" />
<line x1="488.40" y1="396.60" x2="443.90" y2="418.40" stroke="#454c5f" stroke-width="1.15" />
<line x1="488.40" y1="396.60" x2="477.60" y2="448.80" stroke="#454c5f" stroke-width="1.15" />
<line x1="427.30" y1="403.50" x2="451.10" y2="437.00" stroke="#454c5f" stroke-width="1.15" />
<line x1="427.30" y1="403.50" x2="477.60" y2="448.80" stroke="#454c5f" stroke-width="1.15" />
<line x1="427.30" y1="403.50" x2="496.20" y2="452.30" stroke="#454c5f" stroke-width="1.15" />
<line x1="488.40" y1="413.20" x2="443.90" y2="418.40" stroke="#454c5f" stroke-width="1.15" />
<line x1="488.40" y1="413.20" x2="509.10" y2="426.90" stroke="#454c5f" stroke-width="1.15" />
<line x1="443.90" y1="418.40" x2="509.10" y2="426.90" stroke="#454c5f" stroke-width="1.15" />
<line x1="443.90" y1="418.40" x2="477.60" y2="448.80" stroke="#454c5f" stroke-width="1.15" />
<line x1="509.10" y1="426.90" x2="477.60" y2="448.80" stroke="#454c5f" stroke-width="1.15" />
<line x1="509.10" y1="426.90" x2="496.20" y2="452.30" stroke="#454c5f" stroke-width="1.15" />
<line x1="509.10" y1="426.90" x2="461.70" y2="479.00" stroke="#454c5f" stroke-width="1.15" />
<line x1="451.10" y1="437.00" x2="426.20" y2="448.40" stroke="#454c5f" stroke-width="1.15" />
<line x1="451.10" y1="437.00" x2="461.70" y2="479.00" stroke="#454c5f" stroke-width="1.15" />
<line x1="426.20" y1="448.40" x2="496.20" y2="452.30" stroke="#454c5f" stroke-width="1.15" />
<line x1="426.20" y1="448.40" x2="461.70" y2="479.00" stroke="#454c5f" stroke-width="1.15" />
<line x1="477.60" y1="448.80" x2="496.20" y2="452.30" stroke="#454c5f" stroke-width="1.15" />
<line x1="496.20" y1="452.30" x2="461.70" y2="479.00" stroke="#454c5f" stroke-width="1.15" />
<line x1="427.30" y1="403.50" x2="443.90" y2="418.40" stroke="#454c5f" stroke-width="2.0" />
<line x1="443.90" y1="418.40" x2="451.10" y2="437.00" stroke="#454c5f" stroke-width="2.0" />
<line x1="426.20" y1="448.40" x2="477.60" y2="448.80" stroke="#454c5f" stroke-width="2.0" />
<line x1="477.60" y1="448.80" x2="461.70" y2="479.00" stroke="#454c5f" stroke-width="2.0" />
<circle cx="463.4" cy="375.6" r="8.8" fill="#cccccc"/>
<text x="463.40" y="377.20" font-size="4.5" fill="#383838" text-anchor="middle" stroke="#383838" stroke-width="0.06">CDKN1B</text>
<circle cx="488.4" cy="396.6" r="8.6" fill="#cccccc"/>
<text x="488.40" y="398.20" font-size="4.5" fill="#383838" text-anchor="middle" stroke="#383838" stroke-width="0.06">CCNA2</text>
<circle cx="427.3" cy="403.5" r="8.4" fill="#cccccc"/>
<text x="427.30" y="405.10" font-size="4.5" fill="#383838" text-anchor="middle" stroke="#383838" stroke-width="0.06">SKP1</text>
<circle cx="488.4" cy="413.2" r="8.6" fill="#cccccc"/>
<text x="488.40" y="414.80" font-size="4.5" fill="#383838" text-anchor="middle" stroke="#383838" stroke-width="0.06">CCNB2</text>
<circle cx="443.9" cy="418.4" r="9.1" fill="#cfcf22"/>
<text x="443.90" y="420.00" font-size="4.5" fill="#383838" text-anchor="middle" stroke="#383838" stroke-width="0.06">CKS1B</text>
<circle cx="509.1" cy="426.9" r="8.8" fill="#2db5ea"/>
<text x="509.10" y="428.50" font-size="4.5" fill="#383838" text-anchor="middle" stroke="#383838" stroke-width="0.06">SKP2</text>
<circle cx="451.1" cy="437.0" r="8.7" fill="#cccccc"/>
<text x="451.10" y="438.60" font-size="4.5" fill="#383838" text-anchor="middle" stroke="#383838" stroke-width="0.06">CDK2</text>
<circle cx="426.2" cy="448.4" r="8.7" fill="#cccccc"/>
<text x="426.20" y="450.00" font-size="4.5" fill="#383838" text-anchor="middle" stroke="#383838" stroke-width="0.06">CDK1</text>
<circle cx="477.6" cy="448.8" r="8.7" fill="#cccccc"/>
<text x="477.60" y="450.40" font-size="4.5" fill="#383838" text-anchor="middle" stroke="#383838" stroke-width="0.06">CCNB1</text>
<circle cx="496.2" cy="452.3" r="8.6" fill="#cccccc"/>
<text x="496.20" y="453.90" font-size="4.5" fill="#383838" text-anchor="middle" stroke="#383838" stroke-width="0.06">CKS2</text>
<circle cx="461.7" cy="479.0" r="8.7" fill="#cccccc"/>
<text x="461.70" y="480.60" font-size="4.5" fill="#383838" text-anchor="middle" stroke="#383838" stroke-width="0.06">CDC20</text>
</svg>
</body></html>
